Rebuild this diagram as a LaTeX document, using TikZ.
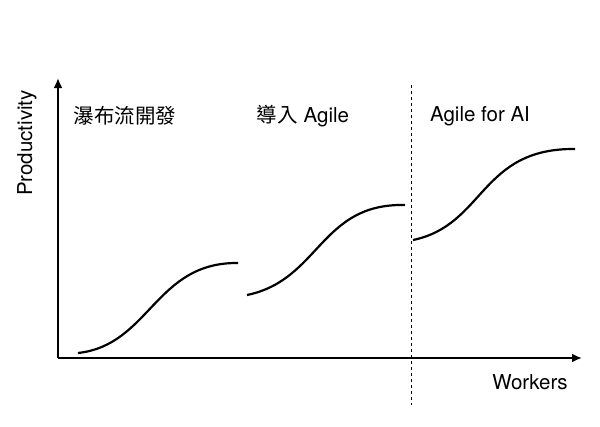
\documentclass[tikz,border=0pt]{standalone}
\usepackage{fontspec}
\setmainfont{TeX Gyre Heros}
\newfontfamily\cjk{Noto Sans CJK TC}
\usetikzlibrary{arrows.meta}
\tikzset{
  curve/.style={line width=2.2pt},
  axis/.style={line width=2.2pt,-{Latex[length=10pt,width=9pt]}},
  label/.style={font=\fontsize{20.5}{24}\selectfont}
}
\begin{document}
\begin{tikzpicture}[x=1pt,y=-1pt]
  \useasboundingbox (0,0) rectangle (600,426);
  % axes
  \coordinate (o) at (58,358);
  \coordinate (ytop) at (58,78);
  \coordinate (xend) at (582,358);
  \draw[axis] (o) -- (ytop);
  \draw[axis] (o) -- (xend);
  \coordinate (dtop) at (411,85);
  \coordinate (dbot) at (411,405);
  \draw[dashed] (dtop) -- (dbot);
  % labels
  \node[label] (waterfall) at (125,116) {\cjk 瀑布流開發};
  \node[label] (agile) at (303,116) {{\cjk 導入} Agile};
  \node[label] (agileai) at (480,116) {Agile for AI};
  \node[label] (workers) at (530,382) {Workers};
  \node[label,rotate=90] (prod) at (27,143) {Productivity};
  % curves
  \coordinate (a0) at (78,353); \coordinate (a1) at (238,263);
  \coordinate (b0) at (247,295); \coordinate (b1) at (405,205);
  \coordinate (c0) at (413,240); \coordinate (c1) at (575,149);
  \draw[curve] (a0) .. controls (150,345) and (155,262) .. (a1);
  \draw[curve] (b0) .. controls (320,280) and (320,203) .. (b1);
  \draw[curve] (c0) .. controls (485,225) and (480,148) .. (c1);
\end{tikzpicture}
\end{document}
